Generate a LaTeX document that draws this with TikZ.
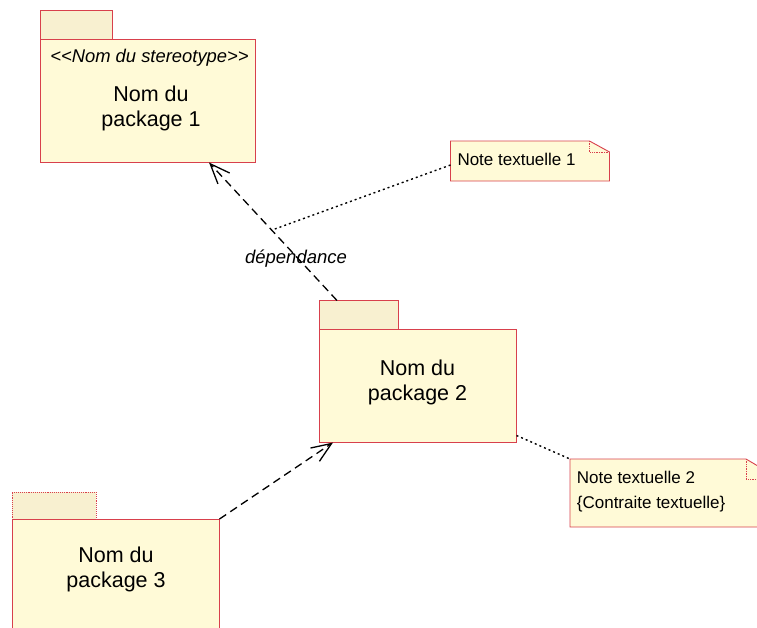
\documentclass[tikz,border=0pt]{standalone}
\usepackage{fontspec}
\setmainfont{Liberation Sans}
\usetikzlibrary{arrows.meta,calc}
\definecolor{pkred}{HTML}{D8404C}
\definecolor{pkbody}{HTML}{FFFAD7}
\definecolor{pktab}{HTML}{F8F0D0}
\begin{document}
\begin{tikzpicture}[x=1pt,y=-1pt,
 box/.style={anchor=north west, inner sep=0pt, outer sep=0pt, draw=pkred, line width=0.9pt},
 body/.style={box, fill=pkbody},
 tab/.style={box, fill=pktab},
 notebox/.style={anchor=north west, inner sep=0pt, outer sep=0pt},
 notefill/.style={fill=pkbody, draw=pkred, line width=0.9pt},
 fold/.style={draw=pkred, line width=0.7pt, densely dotted},
 pkgtext/.style={anchor=base, font=\fontsize{21.5}{26}\selectfont, inner sep=0pt},
 notetext/.style={anchor=base west, font=\fontsize{17}{20}\selectfont, inner sep=0pt},
 dep/.style={draw=black, line width=1.3pt, dash pattern=on 8pt off 5pt,
   -{Straight Barb[length=20pt,width=16pt,line width=1.3pt]}},
 link/.style={draw=black, line width=1.4pt, dash pattern=on 2pt off 3pt},
]
\useasboundingbox (0,0) rectangle (757,627);

% Package 1
\node[tab, minimum width=72, minimum height=29] (p1tab) at (40.5,10.5) {};
\node[body, minimum width=214.5, minimum height=123] (p1) at (40.5,39.5) {};
\node[anchor=base, inner sep=0pt, font=\fontsize{18.4}{20}\selectfont\itshape] (p1st) at (149.5,62) {<\kern0pt<Nom du stereotype>\kern0pt>};
\node[pkgtext] (p1a) at (151,101) {Nom du};
\node[pkgtext] (p1b) at (151,126) {package 1};

% Package 2
\node[tab, minimum width=79, minimum height=29] (p2tab) at (319.5,300.5) {};
\node[body, minimum width=197, minimum height=113] (p2) at (319.5,329.5) {};
\node[pkgtext] (p2a) at (417.5,375) {Nom du};
\node[pkgtext] (p2b) at (417.5,400) {package 2};

% Package 3
\node[tab, densely dotted, minimum width=84, minimum height=27] (p3tab) at (12,492) {};
\node[body, minimum width=207.5, minimum height=130] (p3) at (12,519) {};
\node[pkgtext] (p3a) at (116,562.5) {Nom du};
\node[pkgtext] (p3b) at (116,587.5) {package 3};

% Note 1
\node[notebox, minimum width=159, minimum height=40] (n1) at (450.5,141) {};
\path[notefill] (n1.north west) -- ([xshift=-20pt]n1.north east) -- ([yshift=-11pt]n1.north east)
  -- (n1.south east) -- (n1.south west) -- cycle;
\draw[fold] ([xshift=-20pt]n1.north east) -- ++(0,11) -- ++(20,0);
\node[notetext] (n1t) at (457.3,165) {Note textuelle 1};

% Note 2
\node[notebox, minimum width=210, minimum height=68] (n2) at (570,459) {};
\path[notefill] (n2.north west) -- ([xshift=-34pt]n2.north east) -- ([yshift=-20pt]n2.north east)
  -- (n2.south east) -- (n2.south west) -- cycle;
\draw[fold] ([xshift=-34pt]n2.north east) -- ++(0,20) -- ++(34,0);
\node[notetext] (n2t) at (576.7,483) {Note textuelle 2};
\node[notetext] (n2c) at (576.7,508) {\{Contraite textuelle\}};

% Connectors
\path (p2tab.north west) ++(17.5,0) coordinate (d1s);
\path (p1.south west) ++(168.5,0) coordinate (d1e);
\draw[dep] (d1s) -- (d1e);
\coordinate (d1m) at ($(d1s)!0.51!(d1e)$);
\path (n1.south west) ++(0,-16) coordinate (n1a);
\draw[link] (n1a) -- (d1m);
\node[anchor=base, inner sep=0pt, font=\fontsize{18.5}{20}\selectfont\itshape] (deplbl) at (296,263) {dépendance};

\path (p2.south west) ++(13.5,0) coordinate (d2e);
\draw[dep] (p3.north east) -- (d2e);

\path (p2.south east) ++(0,-7) coordinate (p2r);
\draw[link] (p2r) -- (n2.north west);
\end{tikzpicture}
\end{document}
